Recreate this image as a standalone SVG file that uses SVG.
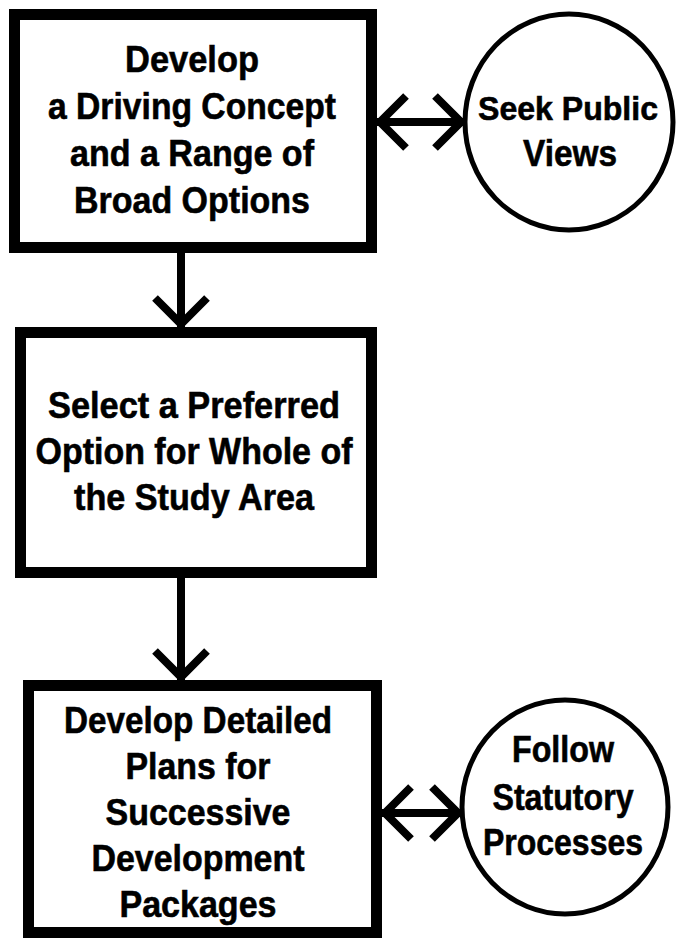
<svg xmlns="http://www.w3.org/2000/svg" width="677" height="939" viewBox="0 0 677 939">
<defs>
<style>
.box{fill:#fff;stroke:#000;stroke-width:11}
.circ{fill:#fff;stroke:#000;stroke-width:5}
.t{font-family:"Liberation Sans",Arial,sans-serif;font-weight:bold;font-size:37px;fill:#000;stroke:#000;stroke-width:0.6;text-anchor:middle}
.tc{font-size:36px}
.conn{stroke:#000;stroke-width:8;fill:none}
</style>
<marker id="chev" markerUnits="userSpaceOnUse" viewBox="-34 -30 42 60" refX="0" refY="0" markerWidth="42" markerHeight="60" orient="auto-start-reverse">
<path d="M-29,-26 L-3,0 L-29,26" fill="none" stroke="#000" stroke-width="8" stroke-linejoin="miter"/>
</marker>
</defs>
<rect width="677" height="939" fill="#fff"/>
<g id="connectors">
<line class="conn" x1="181" y1="253" x2="181" y2="327" marker-end="url(#chev)"/>
<line class="conn" x1="181" y1="578" x2="181" y2="680" marker-end="url(#chev)"/>
<line class="conn" x1="377" y1="122" x2="464" y2="122" marker-start="url(#chev)" marker-end="url(#chev)"/>
<line class="conn" x1="382" y1="813" x2="461" y2="813" marker-start="url(#chev)" marker-end="url(#chev)"/>
</g>
<g id="node-develop">
<rect class="box" x="14.5" y="14.5" width="357" height="233"/>
<text class="t" x="192" y="72" textLength="134" lengthAdjust="spacingAndGlyphs">Develop</text>
<text class="t" x="192" y="119" textLength="288" lengthAdjust="spacingAndGlyphs">a Driving Concept</text>
<text class="t" x="192" y="166" textLength="244" lengthAdjust="spacingAndGlyphs">and a Range of</text>
<text class="t" x="192" y="213" textLength="236" lengthAdjust="spacingAndGlyphs">Broad Options</text>
</g>
<g id="node-public">
<ellipse class="circ" cx="569" cy="122" rx="104" ry="108"/>
<text class="t" x="568" y="120" style="font-size:33px" textLength="180" lengthAdjust="spacingAndGlyphs">Seek Public</text>
<text class="t tc" x="570" y="166" textLength="94" lengthAdjust="spacingAndGlyphs">Views</text>
</g>
<g id="node-select">
<rect class="box" x="20.5" y="332.5" width="351" height="240"/>
<text class="t" x="194" y="418" textLength="292" lengthAdjust="spacingAndGlyphs">Select a Preferred</text>
<text class="t" x="194" y="464" textLength="317" lengthAdjust="spacingAndGlyphs">Option for Whole of</text>
<text class="t" x="194" y="510" textLength="240" lengthAdjust="spacingAndGlyphs">the Study Area</text>
</g>
<g id="node-detailed">
<rect class="box" x="28.5" y="685.5" width="348" height="247"/>
<text class="t" x="198" y="733" textLength="268" lengthAdjust="spacingAndGlyphs">Develop Detailed</text>
<text class="t" x="198" y="779" textLength="145" lengthAdjust="spacingAndGlyphs">Plans for</text>
<text class="t" x="198" y="825" textLength="185" lengthAdjust="spacingAndGlyphs">Successive</text>
<text class="t" x="198" y="871" textLength="213" lengthAdjust="spacingAndGlyphs">Development</text>
<text class="t" x="198" y="917" textLength="157" lengthAdjust="spacingAndGlyphs">Packages</text>
</g>
<g id="node-statutory">
<ellipse class="circ" cx="565" cy="807" rx="103" ry="107"/>
<text class="t tc" x="563" y="762" textLength="102" lengthAdjust="spacingAndGlyphs">Follow</text>
<text class="t tc" x="563" y="810" textLength="141" lengthAdjust="spacingAndGlyphs">Statutory</text>
<text class="t tc" x="563" y="855" textLength="160" lengthAdjust="spacingAndGlyphs">Processes</text>
</g>
</svg>
